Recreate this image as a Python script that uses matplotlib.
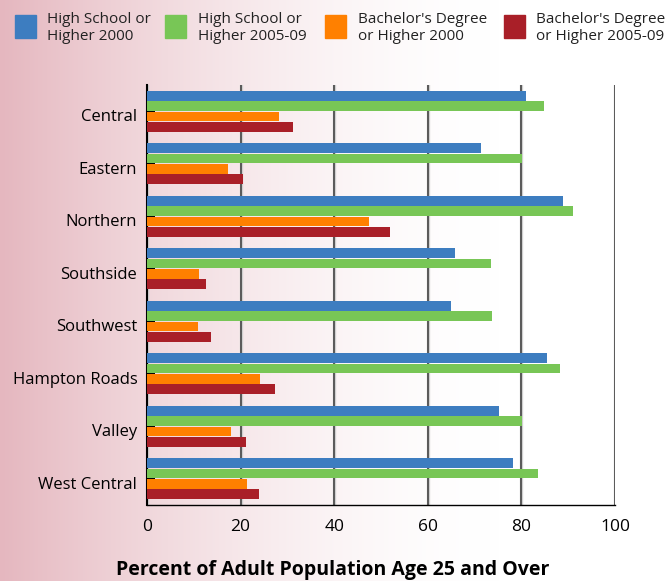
import matplotlib
matplotlib.use("Agg")
import matplotlib.pyplot as plt
import matplotlib.patheffects as pe
import matplotlib.transforms as mtrans
import numpy as np

plt.rcParams['font.family'] = ['Open Sans', 'DejaVu Sans']

regions = ["Central", "Eastern", "Northern", "Southside", "Southwest",
           "Hampton Roads", "Valley", "West Central"]
hs_2000 = [81.0, 71.4, 88.9, 65.9, 65.0, 85.4, 75.3, 78.3]
hs_0509 = [84.8, 80.1, 91.0, 73.4, 73.8, 88.2, 80.2, 83.6]
ba_2000 = [28.1, 17.3, 47.4, 11.2, 10.8, 24.1, 17.9, 21.4]
ba_0509 = [31.2, 20.5, 51.9, 12.7, 13.6, 27.4, 21.2, 23.9]

series = [hs_2000, hs_0509, ba_2000, ba_0509]
labels = ["High School or\nHigher 2000", "High School or\nHigher 2005-09",
          "Bachelor's Degree\nor Higher 2000", "Bachelor's Degree\nor Higher 2005-09"]
colors = ["#3d7dc0", "#78c656", "#ff8000", "#a91f28"]
xticks = [0, 20, 40, 60, 80, 100]

fig = plt.figure(figsize=(6.66, 5.81), dpi=100)

# pink -> white horizontal gradient background
bg = fig.add_axes([0, 0, 1, 1], zorder=-10)
t = np.linspace(0, 1, 666)
w = np.clip(1 - t / 0.75, 0, 1) ** 1.7
pink = np.array([229, 183, 191]) / 255.
grad = 1 - (1 - pink)[None, :] * w[:, None]
bg.imshow(grad[None, :, :], aspect="auto", extent=[0, 1, 0, 1])
bg.axis("off")

ax = fig.add_axes([147/666, 1-505/581, (615-147)/666, (505-85)/581])
ax.patch.set_alpha(0)

y = np.arange(len(regions))
offs = [-0.295, -0.1, 0.1, 0.295]
for vals, off, c in zip(series, offs, colors):
    ax.barh(y + off, vals, height=0.19, color=c, zorder=3)

ax.set_xlim(0, 100)
ax.set_ylim(len(regions) - 0.5, -0.5)
ax.set_xticks(xticks)
ax.set_yticks(y)
ax.set_yticklabels(regions, fontsize=12)
ax.tick_params(axis='x', length=0, labelsize=12.5, pad=10)
ax.tick_params(axis='y', direction='in', length=6, width=1.4, color='k', pad=7)
shift = mtrans.ScaledTranslation(0, -4/100, fig.dpi_scale_trans)
for lab in ax.get_yticklabels():
    lab.set_transform(lab.get_transform() + shift)

ax.grid(axis='x', color='#444444', linewidth=1.2, zorder=1)
for gl in ax.xaxis.get_gridlines():
    gl.set_path_effects([pe.Stroke(linewidth=2.4, foreground='#d0d0d0'), pe.Normal()])
ax.set_axisbelow(True)

ax.spines[['top', 'right']].set_visible(False)
ax.spines['left'].set_linewidth(1.5)
ax.spines['bottom'].set_linewidth(1.0)

# legend drawn manually across the top
sq_x = [15, 165, 325, 504]
tx_x = [47, 198, 358, 536]
for sx, tx, lab, c in zip(sq_x, tx_x, labels, colors):
    fig.patches.append(plt.Rectangle((sx/666, 1-38/581), 21/666, 23/581,
                                     transform=fig.transFigure, color=c))
    fig.text(tx/666, 1-28/581, lab, fontsize=11, va='center', ha='left',
             linespacing=1.2, color='#222222')

fig.text(333/666, 1-570/581, "Percent of Adult Population Age 25 and Over",
         fontsize=14, fontweight='bold', ha='center', va='center')

fig.savefig("out.png", dpi=100)
